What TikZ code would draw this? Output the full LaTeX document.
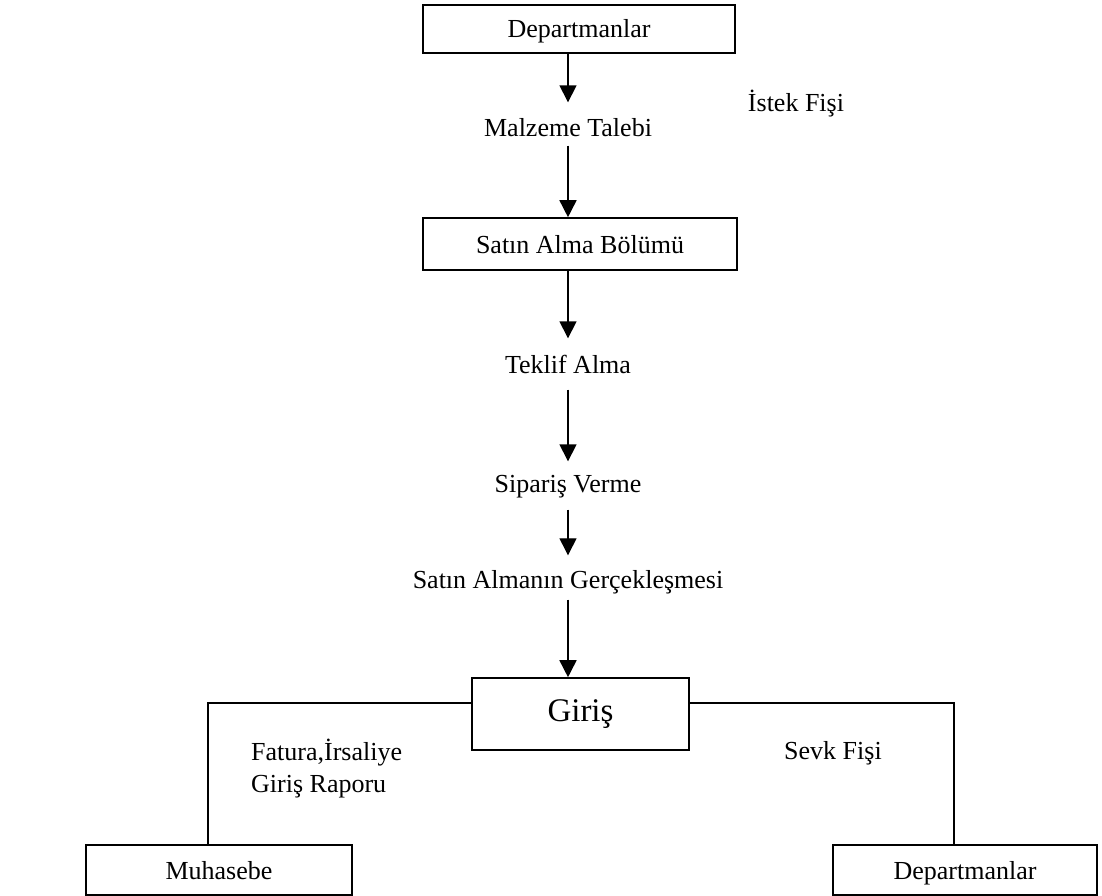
\documentclass[tikz,border=0pt]{standalone}
\usepackage{fontspec}
\setmainfont{Liberation Serif}
\usetikzlibrary{arrows.meta}
\begin{document}
\begin{tikzpicture}[x=1pt,y=-1pt,
  font=\fontsize{26}{31}\selectfont,
  box/.style={draw,line width=1.6pt,fill=white,inner sep=0pt,
              text height=19pt,text depth=1pt,minimum height=48pt},
  lbl/.style={inner sep=0pt,text height=19pt,text depth=6pt},
  flow/.style={line width=1.6pt,-{Triangle[width=17pt,length=17pt]}},
  link/.style={line width=1.6pt}]
\useasboundingbox (0,0) rectangle (1102,896);

% boxes
\node[box,minimum width=312pt] (dep1) at (579,29) {Departmanlar};
\node[box,minimum width=314pt,minimum height=52pt] (satin) at (580,244) {Satın Alma Bölümü};
\node[box,minimum width=217pt,minimum height=72pt,text height=,text depth=,
      font=\fontsize{33}{38}\selectfont] (giris) at (580.5,714) {Giriş};
\node[box,minimum width=266pt,minimum height=50pt] (muh) at (219,870) {Muhasebe};
\node[box,minimum width=264pt,minimum height=50pt] (dep2) at (965,870) {Departmanlar};

% process steps
\node[lbl] (malz) at (568,130) {Malzeme Talebi};
\node[lbl] (teklif) at (568,367) {Teklif Alma};
\node[lbl] (sip) at (568,486) {Sipariş Verme};
\node[lbl] (gerc) at (568,582) {Satın Almanın Gerçekleşmesi};

% side notes
\node[lbl] (istek) at (796,105) {İstek Fişi};
\node[inner sep=0pt,align=left,anchor=west] (fatura) at (251,769)
  {Fatura,İrsaliye\\[1pt]Giriş Raporu};
\node[lbl] (sevk) at (833,753) {Sevk Fişi};

% vertical flow
\draw[flow,shorten >=15pt] (dep1.south -| malz) -- (malz.north);
\draw[flow,shorten <=3pt] (malz.south) -- (satin.north -| malz);
\draw[flow,shorten >=16pt] (satin.south -| teklif) -- (teklif.north);
\draw[flow,shorten <=10pt,shorten >=12pt] (teklif.south) -- (sip.north);
\draw[flow,line width=1.3pt,shorten <=11pt,shorten >=14pt] (sip.south) -- (gerc.north);
\draw[flow,shorten <=5pt] (gerc.south) -- (giris.north -| gerc);

% distribution from Giriş
\coordinate (lc) at (208,703);
\coordinate (rc) at (954,703);
\draw[link] (giris.west |- lc) -- (lc) -- (muh.north -| lc);
\draw[link] (giris.east |- rc) -- (rc) -- (dep2.north -| rc);
\end{tikzpicture}
\end{document}
